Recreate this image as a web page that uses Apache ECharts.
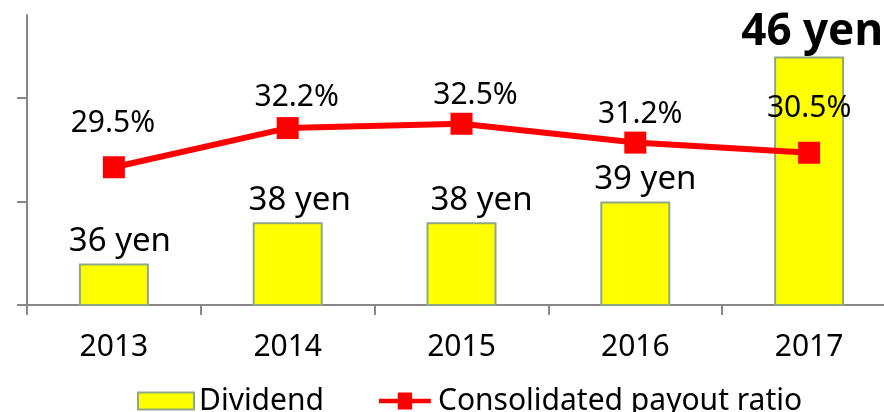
<!DOCTYPE html>
<html>
<head>
<meta charset="utf-8">
<style>
  html, body { margin: 0; padding: 0; background: #fff; }
  #chart { width: 884px; height: 412px; }
</style>
<script src="https://cdn.jsdelivr.net/npm/echarts@6/dist/echarts.min.js"></script>
</head>
<body>
<div id="chart"></div>
<script>
// data
var years = ['2013', '2014', '2015', '2016', '2017'];
var dividend = [36, 38, 38, 39, 46];
var payoutRatio = [29.5, 32.2, 32.5, 31.2, 30.5];
var dividendTicks = [34, 39, 44];

// label nudges (the original labels were placed by hand)
var barLabelDx = [6, 12, 20, 10, 3];
var pctLabelShift = [[-1, -44], [9, -31], [14, -28], [5, -28], [0, -44]];

var FONT = 'Noto Sans';
// red line with a square in the middle, for the legend
var LINE_ICON = 'path://M0,7L21,7L21,0L37,0L37,7L58,7L58,12L37,12L37,19L21,19L21,12L0,12Z';

var chart = echarts.init(document.getElementById('chart'), null, { renderer: 'canvas' });

var barData = dividend.map(function (v, i) {
    var item = { value: v, label: { offset: [barLabelDx[i], -5] } };
    if (i === dividend.length - 1) {
        // latest year is shown big and bold
        item.label.fontWeight = 'bold';
        item.label.fontSize = 44;
        item.label.offset = [barLabelDx[i], -2];
    }
    return item;
});

var lineData = payoutRatio.map(function (v, i) {
    return { value: v, label: { offset: pctLabelShift[i] } };
});

var option = {
    animation: false,
    textStyle: { fontFamily: FONT },
    grid: {
        left: 27, top: 15, width: 869, bottom: 107,
        containLabel: false,
        outerBoundsMode: 'none'   // the plot runs past the right edge
    },
    legend: {
        left: 137,
        top: 386,
        padding: 0,
        itemWidth: 56,
        itemHeight: 17,
        itemGap: 55,
        textStyle: { fontSize: 30, color: '#000', fontFamily: FONT },
        data: [
            { name: 'Dividend', icon: 'rect' },
            { name: 'Consolidated payout ratio', icon: LINE_ICON, itemStyle: { color: '#ff0000', borderWidth: 0 } }
        ]
    },
    xAxis: {
        type: 'category',
        data: years,
        axisLine: { lineStyle: { color: '#888', width: 2 } },
        axisTick: { show: true, length: 10, lineStyle: { color: '#888', width: 2 } },
        axisLabel: { fontSize: 30, color: '#000', margin: 27, fontFamily: FONT }
    },
    yAxis: [{
        type: 'value',
        min: 34,
        max: 48,
        axisLine: { show: true, lineStyle: { color: '#888', width: 2 } },
        axisTick: { show: true, length: 10, customValues: dividendTicks, lineStyle: { color: '#888', width: 2 } },
        axisLabel: { show: false },
        splitLine: { show: false }
    }, {
        type: 'value',
        min: 20,
        max: 40,
        show: false,
        splitLine: { show: false }
    }],
    series: [{
        name: 'Dividend',
        type: 'bar',
        data: barData,
        barWidth: 70,
        itemStyle: { color: '#ffff00', borderColor: '#8fa882', borderWidth: 2 },
        label: {
            show: true,
            position: 'top',
            distance: 0,
            formatter: '{c} yen',
            fontSize: 33,
            color: '#000',
            fontFamily: FONT
        }
    }, {
        name: 'Consolidated payout ratio',
        type: 'line',
        yAxisIndex: 1,
        data: lineData,
        symbol: 'rect',
        symbolSize: 22,
        itemStyle: { color: '#ff0000' },
        lineStyle: { color: '#ff0000', width: 6 },
        label: {
            show: true,
            position: 'inside',
            formatter: '{c}%',
            fontSize: 30,
            color: '#000',
            fontFamily: FONT
        }
    }]
};

chart.setOption(option);
</script>
</body>
</html>
